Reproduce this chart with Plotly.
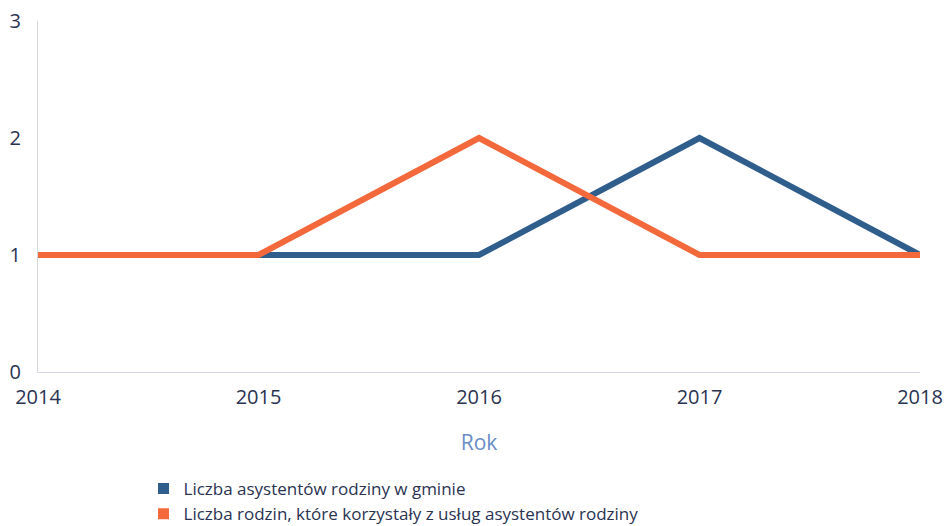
import plotly.graph_objects as go

years = [2014, 2015, 2016, 2017, 2018]
asystenci = [1, 1, 1, 2, 1]
rodziny = [1, 1, 2, 1, 1]
name_a = "Liczba asystentów rodziny w gminie"
name_r = "Liczba rodzin, które korzystały z usług asystentów rodziny"

blue = "#2f5d8c"
orange = "#f4693c"
text_c = "#2a3352"

fig = go.Figure()
fig.add_trace(go.Scatter(x=years, y=asystenci, mode="lines", line=dict(color=blue, width=6),
                         showlegend=False, hoverinfo="skip"))
fig.add_trace(go.Scatter(x=years, y=rodziny, mode="lines", line=dict(color=orange, width=6),
                         showlegend=False, hoverinfo="skip"))
fig.add_trace(go.Scatter(x=[None], y=[None], mode="markers", name=name_a,
                         marker=dict(symbol="square", size=11, color=blue)))
fig.add_trace(go.Scatter(x=[None], y=[None], mode="markers", name=name_r,
                         marker=dict(symbol="square", size=11, color=orange)))

fig.update_layout(
    width=946, height=526,
    margin=dict(l=38, r=26, t=21, b=154, autoexpand=False),
    paper_bgcolor="white", plot_bgcolor="white",
    font=dict(family="Open Sans", size=17, color=text_c),
    xaxis=dict(range=[2014, 2018], tickvals=years, ticktext=[str(y) for y in years],
               showgrid=False, zeroline=False, showline=True, linecolor="#d4d6de", linewidth=1,
               ticks="", tickfont=dict(size=20, color=text_c), automargin=False,
               ticklabelstandoff=7, ticklabeloverflow="allow",
               title=dict(text="Rok", font=dict(size=21, color="#6a8cc6"), standoff=26)),
    yaxis=dict(range=[0, 3], tickvals=[0, 1, 2, 3], showgrid=False, zeroline=False,
               showline=True, linecolor="#d4d6de", linewidth=1, ticks="", automargin=False,
               ticklabelstandoff=12, ticklabeloverflow="allow",
               tickfont=dict(size=20, color=text_c)),
    legend=dict(orientation="v", x=0.1517, xref="container", y=0.1046, yref="container",
                xanchor="left", yanchor="top",
                font=dict(size=17, color=text_c), itemwidth=30, tracegroupgap=0,
                bgcolor="rgba(0,0,0,0)"),
)

fig.write_html("out.html", config={"displayModeBar": False},
               post_script="document.body.style.margin='0';")
